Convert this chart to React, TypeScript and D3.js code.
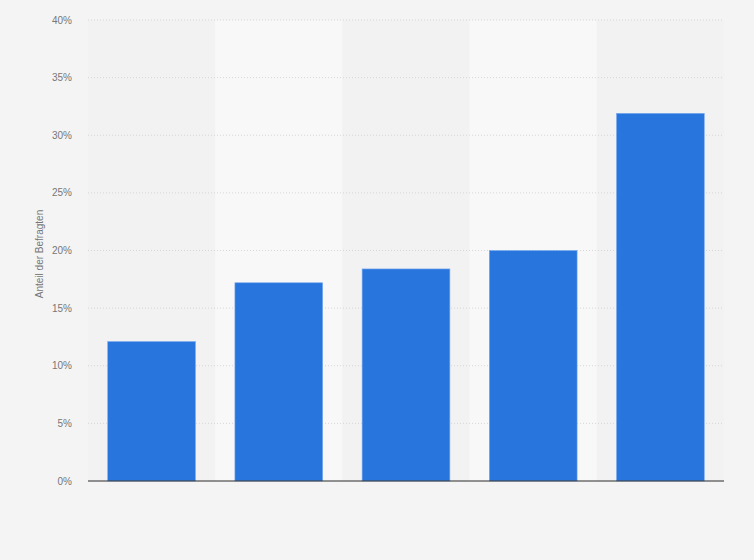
import React from 'react';
import * as d3 from 'd3';

const categories = ['A', 'B', 'C', 'D', 'E'];
const values = [12.1, 17.2, 18.4, 20.0, 31.9];
const yTicks = [0, 5, 10, 15, 20, 25, 30, 35, 40];
const yLabel = 'Anteil der Befragten';

const width = 754;
const height = 560;
const margin = { top: 20, right: 30, bottom: 79, left: 88 };

const App: React.FC = () => {
  const innerW = width - margin.left - margin.right;
  const innerH = height - margin.top - margin.bottom;

  const band = d3.scaleBand<string>().domain(categories).range([0, innerW]).padding(0);
  const x = d3.scaleBand<string>()
    .domain(categories)
    .range([0, innerW])
    .paddingInner(0.31)
    .paddingOuter(0.155);
  const y = d3.scaleLinear().domain([0, 40]).range([innerH, 0]);

  return (
    <svg
      width={width}
      height={height}
      style={{ position: 'absolute', left: 0, top: 0, background: '#f4f4f4', fontFamily: '"Liberation Sans", Arial, sans-serif' }}
    >
      <g transform={`translate(${margin.left},${margin.top})`}>
        {/* alternating column bands */}
        {categories.map((c, i) => (
          <rect
            key={'band' + c}
            x={band(c)}
            y={0}
            width={band.bandwidth()}
            height={innerH}
            fill={i % 2 === 1 ? '#f8f8f8' : '#f2f2f2'}
          />
        ))}
        {/* gridlines */}
        {yTicks.filter(t => t > 0).map(t => (
          <line
            key={'g' + t}
            x1={0}
            x2={innerW}
            y1={y(t)}
            y2={y(t)}
            stroke="#d6d6d6"
            strokeWidth={1}
            strokeDasharray="1,2"
          />
        ))}
        {/* tick labels */}
        {yTicks.map(t => (
          <text
            key={'t' + t}
            x={-16}
            y={y(t)}
            dy="0.35em"
            textAnchor="end"
            fontSize={10}
            fill="#777"
          >
            {t + '%'}
          </text>
        ))}
        {/* bars */}
        {categories.map((c, i) => (
          <rect
            key={'bar' + c}
            x={x(c)}
            y={y(values[i])}
            width={x.bandwidth()}
            height={innerH - y(values[i])}
            fill="#2876dd"
            stroke="#7aaaf0"
            strokeWidth={0.6}
          />
        ))}
        {/* axis line */}
        <line x1={0} x2={innerW} y1={innerH} y2={innerH} stroke="#2a2a2a" strokeWidth={1} />
        {/* y label */}
        <text
          transform={`translate(${-45},${innerH / 2 + 3.5}) rotate(-90)`}
          textAnchor="middle"
          fontSize={10}
          fill="#777"
        >
          {yLabel}
        </text>
      </g>
    </svg>
  );
};

export default App;
